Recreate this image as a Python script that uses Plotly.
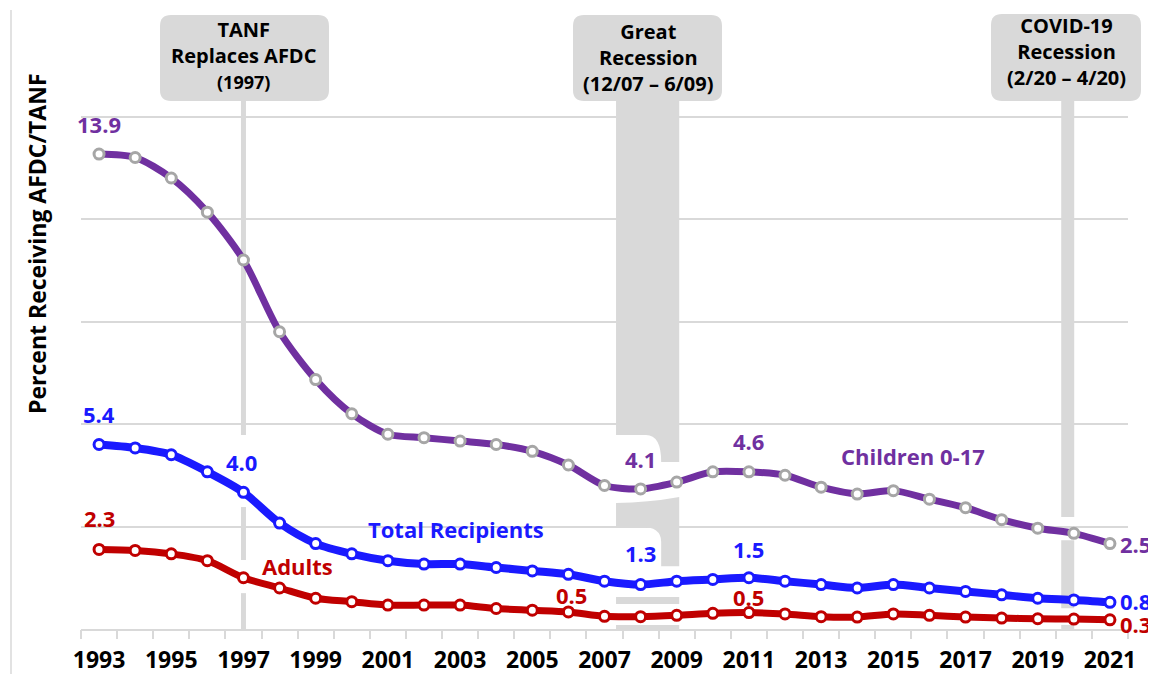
import plotly.graph_objects as go

years = list(range(1993, 2022))
children = [13.9, 13.8, 13.2, 12.2, 10.8, 8.7, 7.3, 6.3, 5.7, 5.6, 5.5, 5.4, 5.2, 4.8, 4.2,
            4.1, 4.3, 4.6, 4.6, 4.5, 4.15, 3.95, 4.05, 3.8, 3.55, 3.2, 2.95, 2.8, 2.5]
total = [5.4, 5.3, 5.1, 4.6, 4.0, 3.1, 2.5, 2.2, 2.0, 1.9, 1.9, 1.8, 1.7, 1.6, 1.4,
         1.3, 1.4, 1.45, 1.5, 1.4, 1.3, 1.2, 1.3, 1.2, 1.1, 1.0, 0.9, 0.85, 0.78]
adults = [2.33, 2.3, 2.2, 2.0, 1.5, 1.2, 0.9, 0.8, 0.7, 0.7, 0.7, 0.6, 0.55, 0.5, 0.37,
          0.36, 0.4, 0.46, 0.48, 0.44, 0.36, 0.35, 0.44, 0.4, 0.35, 0.32, 0.3, 0.29, 0.27]
tick_years = years[::2]

PURPLE, BLUE, RED = '#7030a0', '#1a1aff', '#c00000'
GREY = '#d9d9d9'
FONT = 'Open Sans'

# the page body adds an 8px margin, so the figure is 8px smaller than the window
OFF = 8
W, H = 1156 - OFF, 674 - OFF
L, R, T, B = 81 - OFF, 28, 14 - OFF, 45
PW, PH = W - L - R, H - T - B


def paper(x, y):
    # window pixel position -> paper coordinates
    return (x - OFF - L) / PW, (H - B - (y - OFF)) / PH


def rounded_box(x0, y0, x1, y1, r=11):
    def p(x, y):
        a, b = paper(x, y)
        return f'{a:.5f},{b:.5f}'
    return (f'M {p(x0 + r, y0)} L {p(x1 - r, y0)} Q {p(x1, y0)} {p(x1, y0 + r)} '
            f'L {p(x1, y1 - r)} Q {p(x1, y1)} {p(x1 - r, y1)} L {p(x0 + r, y1)} '
            f'Q {p(x0, y1)} {p(x0, y1 - r)} L {p(x0, y0 + r)} Q {p(x0, y0)} {p(x0 + r, y0)} Z')


fig = go.Figure()

series = [
    ('Adults', adults, RED, 7, RED),
    ('Total Recipients', total, BLUE, 8, BLUE),
    ('Children 0-17', children, PURPLE, 7, '#a6a6a6'),
]
for name, vals, color, lw, mcol in series:
    fig.add_trace(go.Scatter(
        x=years, y=vals, mode='lines+markers', name=name,
        line=dict(color=color, width=lw, shape='spline', smoothing=0.8),
        marker=dict(size=10, color='white', line=dict(color=mcol, width=3)),
        hoverinfo='skip', showlegend=False))

# invisible trace so the boundary-tick axis gets drawn
fig.add_trace(go.Scatter(x=[1993], y=[0], xaxis='x2', mode='markers',
                         marker=dict(opacity=0), hoverinfo='skip', showlegend=False))

# TANF marker line (1997)
for ya, yb in [(15.5, 5.68), (3.57, 2.02), (1.05, 0)]:
    fig.add_shape(type='line', x0=1997, x1=1997, y0=ya, y1=yb,
                  line=dict(color=GREY, width=5), layer='between')

# Great Recession band, broken where the series pass through
gx0, gx1 = 2007.32, 2009.07
gr_paths = [
    f'M {gx0},15.5 L {gx1},15.5 L {gx1},4.89 L 2008.57,4.89 Q 2008.57,5.68 2008.15,5.68 L {gx0},5.68 Z',
    f'M {gx0},3.69 Q 2008.2,3.69 {gx1},3.86 L {gx1},1.84 L 2008.57,1.84 L 2008.57,2.55 '
    f'Q 2008.57,2.99 2008.0,2.99 L {gx0},2.99 Z',
    f'M {gx0},0.94 L {gx1},0.94 L {gx1},0.73 L {gx0},0.73 Z',
    f'M {gx0},0.12 L {gx1},0.12 L {gx1},0 L {gx0},0 Z',
]
for pth in gr_paths:
    fig.add_shape(type='path', path=pth, fillcolor=GREY, line=dict(width=0), layer='between')

# COVID-19 band
cx0, cx1 = 2019.65, 2020.01
for ya, yb in [(15.5, 3.28), (2.6, 0.61), (0.12, 0)]:
    fig.add_shape(type='rect', x0=cx0, x1=cx1, y0=yb, y1=ya,
                  fillcolor=GREY, line=dict(width=0), layer='between')

# event boxes
boxes = [
    ((160, 15, 329, 101), (244, 55),
     "<b>TANF<br>Replaces AFDC<br><span style='font-size:18px'>(1997)</span></b>"),
    ((573, 15, 722, 101), (648, 57), '<b>Great<br>Recession<br>(12/07 – 6/09)</b>'),
    ((991, 14, 1141, 101), (1066, 52), '<b>COVID-19<br>Recession<br>(2/20 – 4/20)</b>'),
]
for (bx0, by0, bx1, by1), (tx, ty), txt in boxes:
    fig.add_shape(type='path', path=rounded_box(bx0, by0, bx1, by1), xref='paper', yref='paper',
                  fillcolor=GREY, line=dict(width=0), layer='above')
    ax, ay = paper(tx, ty)
    fig.add_annotation(x=ax, y=ay, xref='paper', yref='paper', text=txt, showarrow=False,
                       xanchor='center', yanchor='middle',
                       font=dict(family=FONT, size=20, color='black'))

# value labels
labels = [
    (children, 1993, 30, 0, PURPLE), (children, 2008, 30, 0, PURPLE), (children, 2011, 31, 0, PURPLE),
    (total, 1993, 31, 0, BLUE), (total, 1997, 30, -2, BLUE), (total, 2008, 32, 0, BLUE),
    (total, 2011, 29, 0, BLUE),
    (adults, 1993, 31, 0, RED), (adults, 2006, 17, 3, RED), (adults, 2011, 16, 0, RED),
]
for vals, yr, ys, xs, col in labels:
    v = vals[years.index(yr)]
    fig.add_annotation(x=yr, y=v, text=f'<b>{v:.1f}</b>', showarrow=False, yshift=ys, xshift=xs,
                       xanchor='center', yanchor='middle',
                       font=dict(family=FONT, size=22, color=col))

for vals, ys, col in [(children, 0, PURPLE), (total, 1, BLUE), (adults, -4, RED)]:
    fig.add_annotation(x=years[-1], y=vals[-1], text=f'<b>{vals[-1]:.1f}</b>', showarrow=False,
                       xanchor='left', yanchor='middle', xshift=8, yshift=ys,
                       font=dict(family=FONT, size=22, color=col))

# series names
for txt, x, y, col in [('Children 0-17', 2015.55, 5.06, PURPLE),
                       ('Total Recipients', 2002.9, 2.93, BLUE),
                       ('Adults', 1998.5, 1.84, RED)]:
    fig.add_annotation(x=x, y=y, text=f'<b>{txt}</b>', showarrow=False,
                       xanchor='center', yanchor='middle',
                       font=dict(family=FONT, size=22, color=col))

# y title
ax, ay = paper(37, 244)
fig.add_annotation(x=ax, y=ay, xref='paper', yref='paper', text='<b>Percent Receiving AFDC/TANF</b>',
                   textangle=-90, showarrow=False, xanchor='center', yanchor='middle',
                   font=dict(family=FONT, size=23, color='black'))

# left frame line
fx, fy0 = paper(11, 10)
_, fy1 = paper(11, 674)
fig.add_shape(type='line', xref='paper', yref='paper', x0=fx, x1=fx, y0=fy0, y1=fy1,
              line=dict(color=GREY, width=1.5))

fig.update_layout(
    width=W, height=H,
    margin=dict(l=L, r=R, t=T, b=B),
    plot_bgcolor='white', paper_bgcolor='white',
    xaxis=dict(range=[1992.5, 2021.5], tickvals=tick_years, ticktext=[str(y) for y in tick_years],
               ticks='', showgrid=False, zeroline=False, showline=True, linecolor=GREY, linewidth=2,
               tickfont=dict(family=FONT, size=23, color='black', weight='bold'),
               ticklabelstandoff=9, automargin=False),
    xaxis2=dict(range=[1992.5, 2021.5], overlaying='x', anchor='y', side='bottom',
                tickvals=[y - 0.5 for y in years] + [2021.5], ticks='outside', ticklen=9,
                tickcolor=GREY, tickwidth=1.5, showticklabels=False, showgrid=False,
                zeroline=False, showline=False, automargin=False),
    yaxis=dict(range=[0, 18], tick0=0, dtick=3, showticklabels=False, ticks='',
               gridcolor=GREY, gridwidth=1.5, zeroline=False, showline=False, automargin=False),
)

fig.write_html('out.html')
